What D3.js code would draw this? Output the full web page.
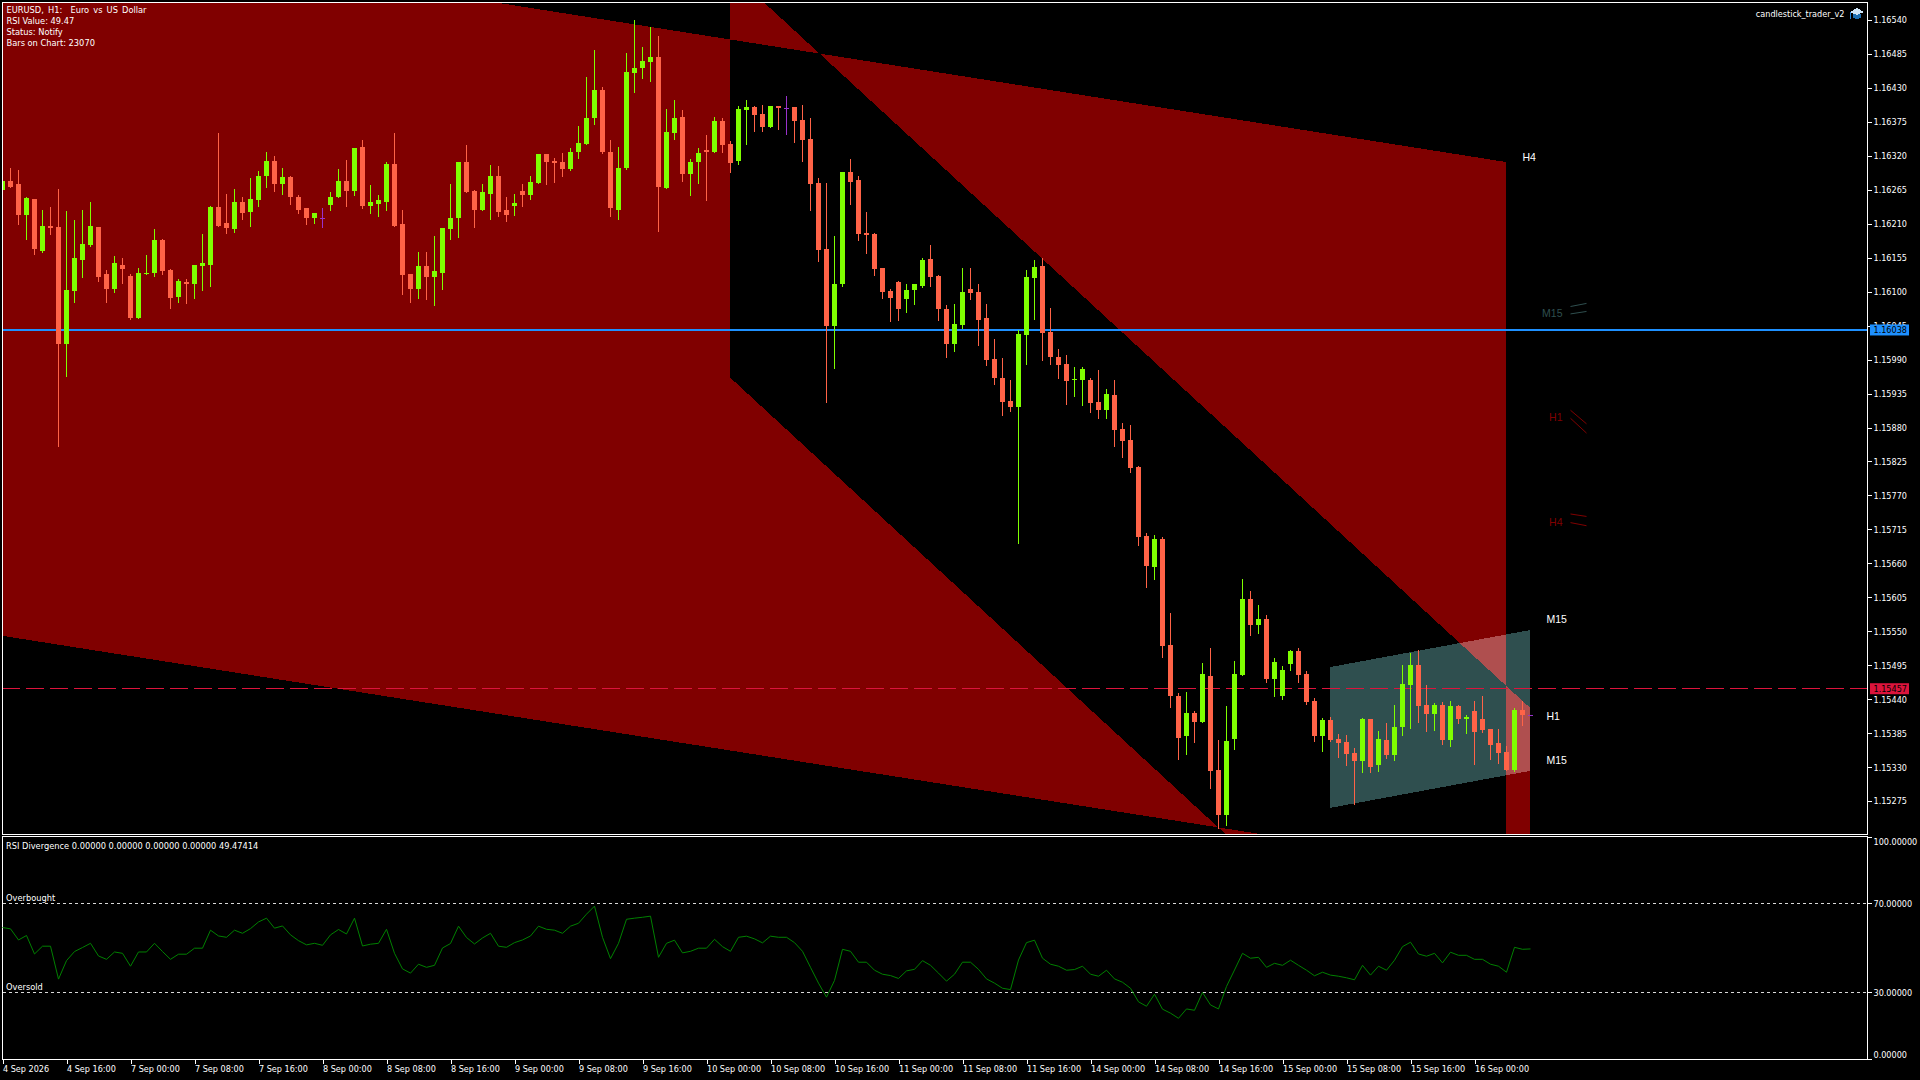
<!DOCTYPE html>
<html><head><meta charset="utf-8">
<script src="https://d3js.org/d3.v7.min.js"></script>
<style>
html,body{margin:0;padding:0;background:#000;overflow:hidden}
svg{display:block}
text{font-family:"DejaVu Sans Condensed","DejaVu Sans",sans-serif;font-size:9px;fill:#fff;white-space:pre}
</style></head><body>
<svg id="c" width="1920" height="1080"></svg>
<script>
const opens=[1.16264,1.16279,1.16274,1.16225,1.16250,1.16166,1.16206,1.16204,1.16015,1.16101,1.16152,1.16175,1.16204,1.16128,1.16104,1.16144,1.16125,1.16058,1.16128,1.16131,1.16183,1.16135,1.16091,1.16115,1.16112,1.16141,1.16144,1.16237,1.16211,1.16201,1.16245,1.16229,1.16248,1.16287,1.16311,1.16274,1.16285,1.16254,1.16235,1.16219,1.16220,1.16240,1.16253,1.16280,1.16263,1.16334,1.16238,1.16242,1.16246,1.16306,1.16209,1.16128,1.16104,1.16141,1.16123,1.16131,1.16201,1.16219,1.16310,1.16263,1.16233,1.16259,1.16288,1.16232,1.16238,1.16263,1.16256,1.16276,1.16323,1.16311,1.16310,1.16298,1.16326,1.16339,1.16381,1.16426,1.16327,1.16233,1.16300,1.16454,1.16462,1.16472,1.16480,1.16268,1.16357,1.16383,1.16290,1.16310,1.16329,1.16326,1.16376,1.16339,1.16311,1.16394,1.16399,1.16388,1.16366,1.16400,1.16398,1.16399,1.16378,1.16347,1.16276,1.16169,1.16044,1.16112,1.16294,1.16281,1.16195,1.16193,1.16138,1.16101,1.16115,1.16088,1.16102,1.16109,1.16153,1.16125,1.16072,1.16015,1.16046,1.16104,1.16099,1.16057,1.15991,1.15961,1.15923,1.15913,1.16030,1.16122,1.16141,1.16034,1.15995,1.15983,1.15957,1.15957,1.15957,1.15921,1.15908,1.15932,1.15877,1.15859,1.15816,1.15704,1.15654,1.15699,1.15528,1.15446,1.15380,1.15417,1.15403,1.15477,1.15325,1.15252,1.15375,1.15479,1.15602,1.15560,1.15570,1.15472,1.15446,1.15497,1.15518,1.15481,1.15437,1.15380,1.15406,1.15375,1.15370,1.15353,1.15340,1.15408,1.15333,1.15374,1.15349,1.15395,1.15463,1.15495,1.15430,1.15416,1.15430,1.15374,1.15429,1.15408,1.15421,1.15408,1.15391,1.15369,1.15354,1.15325,1.15422,1.15415];
const highs=[1.16280,1.16300,1.16297,1.16254,1.16250,1.16232,1.16237,1.16267,1.16230,1.16216,1.16232,1.16245,1.16204,1.16135,1.16157,1.16154,1.16128,1.16138,1.16159,1.16201,1.16185,1.16136,1.16120,1.16120,1.16143,1.16193,1.16238,1.16357,1.16259,1.16266,1.16254,1.16284,1.16295,1.16327,1.16319,1.16300,1.16287,1.16256,1.16235,1.16227,1.16235,1.16261,1.16298,1.16313,1.16332,1.16345,1.16272,1.16256,1.16310,1.16357,1.16232,1.16128,1.16164,1.16164,1.16190,1.16203,1.16274,1.16310,1.16337,1.16264,1.16274,1.16305,1.16303,1.16253,1.16258,1.16274,1.16288,1.16323,1.16323,1.16316,1.16324,1.16332,1.16368,1.16447,1.16491,1.16431,1.16345,1.16334,1.16486,1.16540,1.16497,1.16528,1.16514,1.16396,1.16410,1.16394,1.16315,1.16332,1.16353,1.16383,1.16381,1.16344,1.16400,1.16410,1.16400,1.16402,1.16400,1.16400,1.16417,1.16399,1.16402,1.16381,1.16284,1.16276,1.16190,1.16294,1.16315,1.16287,1.16229,1.16195,1.16138,1.16104,1.16117,1.16112,1.16112,1.16154,1.16175,1.16127,1.16078,1.16080,1.16138,1.16138,1.16112,1.16080,1.16023,1.15992,1.15957,1.16038,1.16135,1.16151,1.16154,1.16073,1.16007,1.15997,1.15978,1.15978,1.15960,1.15973,1.15942,1.15957,1.15887,1.15884,1.15817,1.15709,1.15706,1.15702,1.15579,1.15450,1.15451,1.15421,1.15498,1.15523,1.15374,1.15429,1.15502,1.15634,1.15615,1.15592,1.15576,1.15506,1.15493,1.15519,1.15523,1.15485,1.15442,1.15409,1.15411,1.15383,1.15382,1.15361,1.15409,1.15408,1.15388,1.15401,1.15430,1.15495,1.15515,1.15519,1.15463,1.15434,1.15435,1.15437,1.15430,1.15414,1.15437,1.15446,1.15391,1.15391,1.15364,1.15425,1.15437,1.15415];
const lows=[1.16264,1.16269,1.16209,1.16186,1.16161,1.16165,1.16193,1.15850,1.15963,1.16084,1.16123,1.16174,1.16118,1.16084,1.16099,1.16114,1.16055,1.16058,1.16128,1.16125,1.16128,1.16073,1.16083,1.16081,1.16089,1.16102,1.16110,1.16207,1.16195,1.16196,1.16217,1.16207,1.16238,1.16269,1.16263,1.16259,1.16242,1.16227,1.16209,1.16212,1.16204,1.16232,1.16253,1.16238,1.16256,1.16235,1.16227,1.16222,1.16232,1.16207,1.16097,1.16084,1.16089,1.16088,1.16078,1.16105,1.16186,1.16188,1.16261,1.16204,1.16232,1.16217,1.16222,1.16214,1.16224,1.16238,1.16250,1.16276,1.16274,1.16277,1.16288,1.16297,1.16316,1.16339,1.16371,1.16324,1.16222,1.16217,1.16298,1.16423,1.16446,1.16442,1.16199,1.16268,1.16347,1.16279,1.16256,1.16276,1.16248,1.16326,1.16326,1.16294,1.16307,1.16339,1.16360,1.16360,1.16366,1.16363,1.16355,1.16342,1.16311,1.16232,1.16149,1.15921,1.15976,1.16110,1.16242,1.16183,1.16162,1.16127,1.16089,1.16052,1.16054,1.16067,1.16080,1.16107,1.16109,1.16054,1.15995,1.16004,1.16041,1.16088,1.16013,1.15981,1.15950,1.15900,1.15906,1.15693,1.15983,1.16055,1.15990,1.15983,1.15960,1.15918,1.15931,1.15916,1.15905,1.15895,1.15895,1.15850,1.15833,1.15808,1.15689,1.15621,1.15634,1.15508,1.15427,1.15343,1.15351,1.15370,1.15403,1.15296,1.15231,1.15236,1.15359,1.15479,1.15544,1.15547,1.15468,1.15445,1.15440,1.15487,1.15468,1.15432,1.15372,1.15356,1.15372,1.15346,1.15333,1.15270,1.15322,1.15322,1.15323,1.15344,1.15341,1.15382,1.15393,1.15403,1.15388,1.15390,1.15367,1.15364,1.15401,1.15385,1.15335,1.15387,1.15343,1.15336,1.15325,1.15323,1.15398,1.15415];
const closes=[1.16279,1.16269,1.16225,1.16251,1.16169,1.16206,1.16203,1.16015,1.16102,1.16154,1.16177,1.16206,1.16123,1.16105,1.16146,1.16136,1.16058,1.16130,1.16131,1.16183,1.16133,1.16089,1.16117,1.16112,1.16143,1.16146,1.16237,1.16207,1.16203,1.16245,1.16227,1.16250,1.16288,1.16311,1.16274,1.16285,1.16253,1.16233,1.16220,1.16227,1.16220,1.16254,1.16279,1.16263,1.16332,1.16238,1.16245,1.16248,1.16306,1.16207,1.16127,1.16104,1.16141,1.16123,1.16133,1.16203,1.16220,1.16310,1.16261,1.16233,1.16261,1.16288,1.16229,1.16225,1.16243,1.16256,1.16277,1.16323,1.16310,1.16308,1.16298,1.16327,1.16340,1.16382,1.16426,1.16326,1.16235,1.16301,1.16455,1.16463,1.16473,1.16480,1.16269,1.16358,1.16381,1.16290,1.16310,1.16324,1.16326,1.16376,1.16337,1.16308,1.16396,1.16399,1.16386,1.16366,1.16400,1.16397,1.16398,1.16376,1.16345,1.16274,1.16167,1.16044,1.16112,1.16294,1.16277,1.16193,1.16191,1.16136,1.16099,1.16089,1.16072,1.16102,1.16112,1.16151,1.16123,1.16072,1.16015,1.16047,1.16099,1.16098,1.16054,1.15989,1.15960,1.15921,1.15913,1.16031,1.16123,1.16140,1.16033,1.15994,1.15981,1.15955,1.15958,1.15974,1.15919,1.15908,1.15934,1.15876,1.15858,1.15814,1.15702,1.15655,1.15699,1.15526,1.15445,1.15378,1.15417,1.15403,1.15481,1.15323,1.15252,1.15372,1.15481,1.15602,1.15560,1.15570,1.15472,1.15500,1.15487,1.15518,1.15479,1.15435,1.15380,1.15406,1.15374,1.15369,1.15351,1.15340,1.15408,1.15331,1.15375,1.15349,1.15395,1.15464,1.15495,1.15429,1.15416,1.15430,1.15374,1.15429,1.15408,1.15411,1.15387,1.15390,1.15366,1.15353,1.15325,1.15422,1.15414,1.15415];
const rsiValues=[59.1,58.5,53.5,55.5,47.2,50.7,50.7,35.9,44.2,48.3,50.1,52.0,46.3,44.8,48.1,47.5,41.7,48.1,48.1,52.0,48.3,44.8,47.1,47.1,49.8,49.8,57.9,55.3,54.7,57.9,56.5,58.6,61.6,63.3,58.8,59.8,55.8,53.2,51.3,52.0,51.1,55.8,58.2,56.2,63.3,50.8,51.6,52.0,58.3,47.5,40.5,38.6,42.6,41.2,42.1,49.9,51.9,59.7,54.6,51.7,54.4,56.5,50.7,50.2,52.3,53.5,55.3,59.7,58.3,57.9,56.5,59.7,61.0,65.1,68.7,54.7,45.1,52.0,62.8,63.3,63.7,64.2,45.7,52.0,53.4,47.7,48.4,49.8,49.8,53.8,50.5,48.4,54.7,55.2,54.0,52.2,55.2,54.7,54.7,52.3,48.4,41.2,34.1,27.8,35.3,49.3,48.4,43.5,43.5,39.9,38.1,37.5,36.2,39.6,40.3,44.2,42.1,38.6,35.0,38.1,43.5,43.5,40.3,36.0,34.1,31.8,31.2,44.5,52.3,53.4,45.3,42.6,41.7,39.9,40.2,41.7,38.1,37.2,39.9,36.0,34.5,31.8,25.7,23.7,29.1,22.4,20.6,18.3,22.5,21.9,29.9,24.3,22.5,32.6,40.0,47.5,45.3,45.7,41.2,43.0,42.1,44.4,42.1,39.9,37.4,39.0,37.7,37.2,36.5,35.6,42.1,37.7,41.7,39.9,44.4,50.5,52.5,47.2,46.2,47.5,43.2,48.0,46.6,46.6,44.8,44.8,42.6,41.7,39.0,50.2,49.3,49.47];
const priceTicks=[1.16540,1.16485,1.16430,1.16375,1.16320,1.16265,1.16210,1.16155,1.16100,1.16045,1.15990,1.15935,1.15880,1.15825,1.15770,1.15715,1.15660,1.15605,1.15550,1.15495,1.15440,1.15385,1.15330,1.15275];
const rsiTicks=[100,70,30,0];
const timeTickBars=[0,8,16,24,32,40,48,56,64,72,80,88,96,104,112,120,128,136,144,152,160,168,176,184];
const timeLabels=["4 Sep 2026","4 Sep 16:00","7 Sep 00:00","7 Sep 08:00","7 Sep 16:00","8 Sep 00:00","8 Sep 08:00","8 Sep 16:00","9 Sep 00:00","9 Sep 08:00","9 Sep 16:00","10 Sep 00:00","10 Sep 08:00","10 Sep 16:00","11 Sep 00:00","11 Sep 08:00","11 Sep 16:00","14 Sep 00:00","14 Sep 08:00","14 Sep 16:00","15 Sep 00:00","15 Sep 08:00","15 Sep 16:00","16 Sep 00:00"];
const channelH4=[[-10,1.16715],[187.95,1.16310],[187.95,1.15159],[-10,1.15563]];
const channelH1=[[90.95,1.16619],[190.95,1.15426],[190.95,1.14767],[90.95,1.15961]];
const channelM15=[[165.95,1.15492],[190.95,1.15552],[190.95,1.15324],[165.95,1.15264]];
const bidPrice=1.16038, askPrice=1.15457;
const infoLines=["EURUSD, H1:  Euro vs US Dollar","RSI Value: 49.47","Status: Notify","Bars on Chart: 23070"];
const channelLabels=[["H4",190,1.16318],["M15",193,1.15570],["H1",193,1.15413],["M15",193,1.15342]];
const fadedLabels=[["M15",195,1.16065,"#2F4F4F"],["H1",195,1.15896,"#800000"],["H4",195,1.15727,"#800000"]];
const miniLines=[[196,1.16076,198,1.16081,"#2F4F4F"],[196,1.16064,198,1.16068,"#2F4F4F"],[196,1.15908,198,1.15886,"#800000"],[196,1.15895,198,1.15871,"#800000"],[196,1.15740,198,1.15736,"#800000"],[196,1.15726,198,1.15721,"#800000"]];
const rsiTitle="RSI Divergence 0.00000 0.00000 0.00000 0.00000 49.47414";

const svg=d3.select("#c");
const x=d3.scaleLinear().domain([0,191]).range([2.5,1530.5]);
const y=d3.scaleLinear().domain([1.16540,1.15275]).range([20,801.1]);
const yR=d3.scaleLinear().domain([0,100]).range([1059,836.5]);
const L=2.5,R=1867.5,T=2.5,B=834.5,T2=836.5,B2=1059.5;

svg.append("defs").append("clipPath").attr("id","main").append("rect")
  .attr("x",3).attr("y",3).attr("width",R-3).attr("height",B-3);

const plot=svg.append("g").attr("clip-path","url(#main)").style("isolation","isolate");
plot.append("rect").attr("x",0).attr("y",0).attr("width",1920).attr("height",840).attr("fill","#000");
const poly=d3.line().x(d=>x(d[0])).y(d=>y(d[1]));
plot.append("path").attr("d",poly(channelH4)+"Z"+poly(channelH1)+"Z")
  .attr("fill","#800000").attr("fill-rule","evenodd").attr("shape-rendering","crispEdges");
plot.append("path").attr("d",poly(channelM15)+"Z").attr("fill","#2F4F4F")
  .style("mix-blend-mode","plus-lighter").attr("shape-rendering","crispEdges");

plot.append("line").attr("x1",2).attr("x2",R).attr("y1",y(askPrice)).attr("y2",y(askPrice))
  .attr("stroke","#DC143C").attr("stroke-dasharray","18,6").attr("shape-rendering","crispEdges");
plot.append("line").attr("x1",2).attr("x2",R).attr("y1",y(bidPrice)).attr("y2",y(bidPrice))
  .attr("stroke","#1E90FF").attr("stroke-width",2).attr("shape-rendering","crispEdges");

const idx=d3.range(opens.length);
const col=i=>closes[i]>opens[i]?"#7FFF00":closes[i]<opens[i]?"#FF6347":"#9932CC";
const cg=plot.append("g").attr("shape-rendering","crispEdges");
cg.selectAll("line").data(idx).join("line")
  .attr("x1",i=>x(i)).attr("x2",i=>x(i)).attr("y1",i=>y(highs[i])).attr("y2",i=>y(lows[i])+1).attr("stroke",col);
cg.selectAll("rect").data(idx).join("rect")
  .attr("x",i=>x(i)-2.5).attr("width",5)
  .attr("y",i=>Math.min(y(opens[i]),y(closes[i])))
  .attr("height",i=>Math.max(1,Math.abs(y(opens[i])-y(closes[i]))))
  .attr("fill",col);

// frames
const frame=svg.append("g").attr("fill","none").attr("stroke","#fff").attr("shape-rendering","crispEdges");
frame.append("rect").attr("x",L).attr("y",T).attr("width",R-L).attr("height",B-T);
frame.append("rect").attr("x",L).attr("y",T2).attr("width",R-L).attr("height",B2-T2);

// price axis
const styleAxis=g=>{g.select(".domain").remove();g.selectAll("line").attr("stroke","#fff").attr("shape-rendering","crispEdges");g.selectAll("text").attr("fill","#fff");g.attr("font-family",null).attr("font-size",null);};
svg.append("g").attr("transform",`translate(${R},0)`)
  .call(d3.axisRight(y).tickValues(priceTicks).tickFormat(d3.format(".5f")).tickSize(4).tickPadding(2)).call(styleAxis);

const yLabel=(p,c)=>{
  const g=svg.append("g");
  g.append("rect").attr("x",1870).attr("width",39).attr("y",y(p)-5.5).attr("height",11).attr("fill",c);
  g.append("text").attr("x",1873.5).attr("y",y(p)).attr("dy","0.36em").style("fill","#000").text(d3.format(".5f")(p));
};
yLabel(bidPrice,"#1E90FF");
yLabel(askPrice,"#DC143C");

// time axis
svg.append("g").attr("transform",`translate(0,${B2})`)
  .call(d3.axisBottom(x).tickValues(timeTickBars).tickFormat((d,i)=>timeLabels[i]).tickSize(4).tickPadding(2))
  .call(styleAxis).call(g=>g.selectAll("text").attr("text-anchor","start").attr("dx",0));

// rsi
const rg=svg.append("g");
[70,30].forEach(v=>rg.append("line").attr("x1",3).attr("x2",R).attr("y1",yR(v)).attr("y2",yR(v))
  .attr("stroke","#d8d8d8").attr("stroke-dasharray","3,3").attr("shape-rendering","crispEdges"));
rg.append("path").attr("d",d3.line().x((d,i)=>x(i)).y(d=>yR(d))(rsiValues)).attr("fill","none").attr("stroke","#008000").attr("stroke-width",1);
svg.append("g").attr("transform",`translate(${R},0)`)
  .call(d3.axisRight(yR).tickValues(rsiTicks).tickFormat(d3.format(".5f")).tickSize(4).tickPadding(2)).call(styleAxis)
  .call(g=>g.selectAll("text").attr("dy",d=>d===100?"0.9em":d===0?"-0.2em":"0.32em"));
svg.append("text").attr("x",6).attr("y",849).style("font-size","9.2px").text(rsiTitle);
svg.append("text").attr("x",6).attr("y",yR(70)-2.5).style("font-size","9.2px").text("Overbought");
svg.append("text").attr("x",6).attr("y",yR(30)-2.5).style("font-size","9.2px").text("Oversold");

// info
svg.selectAll(".info").data(infoLines).join("text").attr("class","info").attr("x",6.5)
  .attr("y",(d,i)=>13+11*i).style("font-size","9.2px").style("word-spacing",(d,i)=>i===0?"1.5px":null).text(d=>d);
svg.append("text").attr("x",1844.5).attr("y",17).attr("text-anchor","end").text("candlestick_trader_v2");
const hat=svg.append("g").attr("shape-rendering","crispEdges");
hat.append("path").attr("d","M1853 14v3.5q4 2.5 8 0V14z").attr("fill","#1c6fb4");
hat.append("path").attr("d","M1850 12L1857 8L1864 12L1857 15Z").attr("fill","#cfe6fa");
hat.append("rect").attr("x",1850).attr("y",12).attr("width",1).attr("height",7).attr("fill","#2a86d8");

// channel labels
svg.selectAll(".cl").data(channelLabels).join("text").attr("class","cl")
  .attr("x",d=>x(d[1])).attr("y",d=>y(d[2])).attr("dy","0.36em").style("font-family","Liberation Sans").style("font-size","10.5px").text(d=>d[0]);
svg.selectAll(".fl").data(fadedLabels).join("text").attr("class","fl").attr("text-anchor","end")
  .attr("x",d=>x(d[1])).attr("y",d=>y(d[2])).attr("dy","0.36em").style("font-family","Liberation Sans").style("font-size","10.5px").style("fill",d=>d[3]).text(d=>d[0]);
svg.selectAll(".ml").data(miniLines).join("line").attr("class","ml")
  .attr("x1",d=>x(d[0])).attr("x2",d=>x(d[2])).attr("y1",d=>y(d[1])).attr("y2",d=>y(d[3])).attr("stroke",d=>d[4]);
</script>
</body></html>
